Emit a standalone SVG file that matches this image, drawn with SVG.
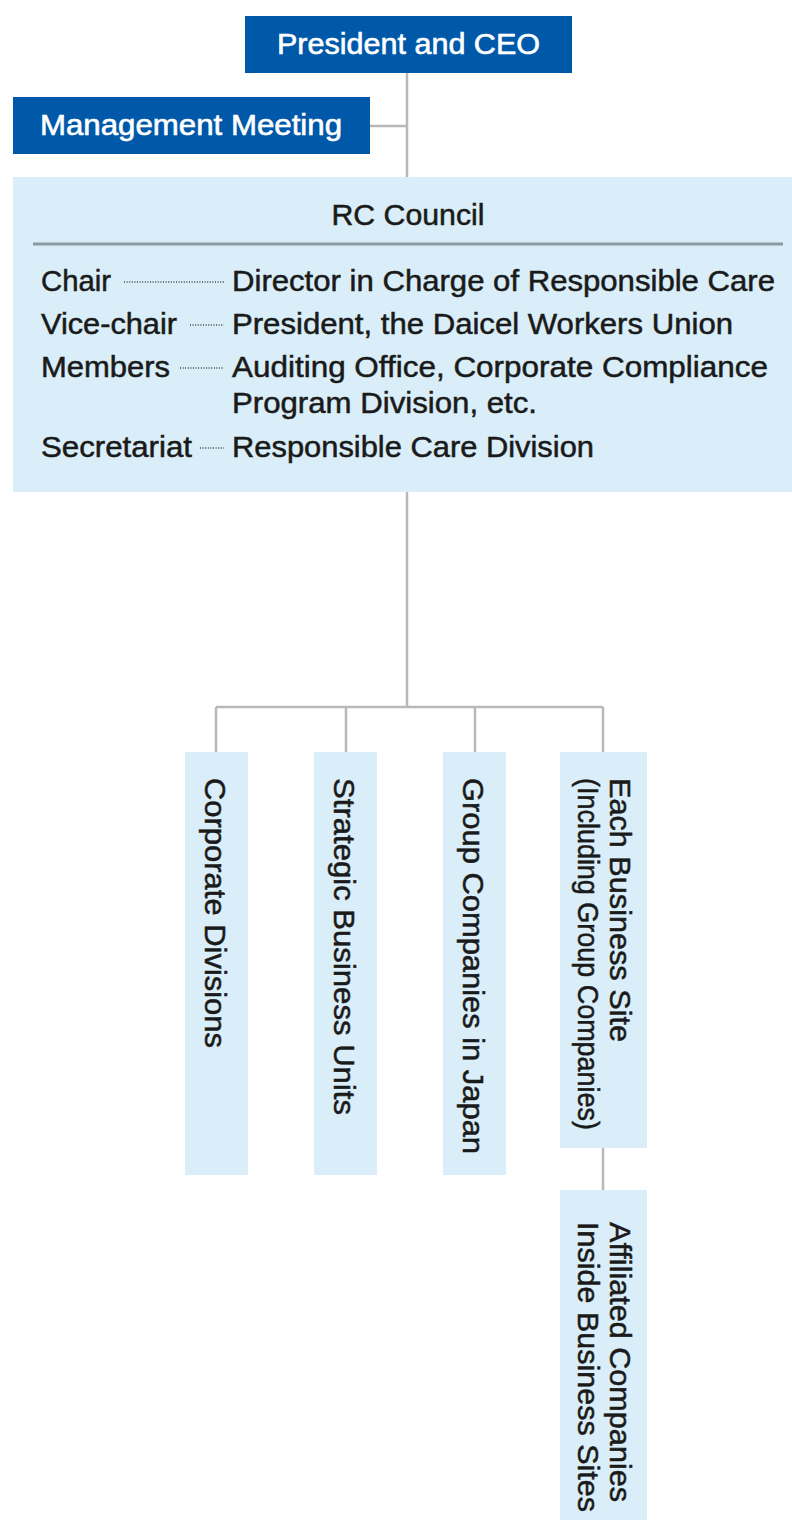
<svg xmlns="http://www.w3.org/2000/svg" width="792" height="1521" viewBox="0 0 792 1521">
  <style>
    .blue { fill: #0058A9; }
    .light { fill: #D9EEF8; }
    .wt { font-family: "Liberation Sans", Arial, sans-serif; font-size: 29px; fill: #ffffff; stroke: #ffffff; stroke-width: 0.6; }
    .tx { font-family: "Liberation Sans", Arial, sans-serif; font-size: 29px; fill: #1a1a1a; stroke: #1a1a1a; stroke-width: 0.5; }
    .conn { stroke: #b8b8b8; stroke-width: 2.5; fill: none; }
    .lead { stroke: #444444; stroke-width: 1.5; stroke-dasharray: 1 1.6; fill: none; }
  </style>
  <rect width="792" height="1521" fill="#ffffff"/>

  <g id="connectors">
    <path class="conn" d="M407 73 V177 M370 126 H407"/>
    <path class="conn" d="M407 492 V707 M216 707 H603 M216 707 V752 M346 707 V752 M475 707 V752 M603 707 V752"/>
    <path class="conn" d="M603 1148 V1190"/>
  </g>

  <g id="president">
    <rect class="blue" x="245" y="16" width="327" height="57"/>
    <text class="wt" x="408.5" y="54" text-anchor="middle" textLength="263" lengthAdjust="spacingAndGlyphs">President and CEO</text>
  </g>

  <g id="management">
    <rect class="blue" x="13" y="97" width="357" height="57"/>
    <text class="wt" x="191" y="135" text-anchor="middle" textLength="302" lengthAdjust="spacingAndGlyphs">Management Meeting</text>
  </g>

  <g id="rc-council">
    <rect class="light" x="13" y="177" width="779" height="315"/>
    <text class="tx" x="408" y="225" text-anchor="middle" textLength="153" lengthAdjust="spacingAndGlyphs">RC Council</text>
    <line x1="33" y1="244" x2="783" y2="244" stroke="#8c9ba3" stroke-width="3"/>
    <text class="tx" x="41" y="291" textLength="70" lengthAdjust="spacingAndGlyphs">Chair</text>
    <line class="lead" x1="124" y1="282" x2="224" y2="282"/>
    <text class="tx" x="232" y="291" textLength="543" lengthAdjust="spacingAndGlyphs">Director in Charge of Responsible Care</text>
    <text class="tx" x="41" y="334" textLength="136" lengthAdjust="spacingAndGlyphs">Vice-chair</text>
    <line class="lead" x1="190" y1="325" x2="224" y2="325"/>
    <text class="tx" x="232" y="334" textLength="501" lengthAdjust="spacingAndGlyphs">President, the Daicel Workers Union</text>
    <text class="tx" x="41" y="377" textLength="129" lengthAdjust="spacingAndGlyphs">Members</text>
    <line class="lead" x1="180" y1="368" x2="224" y2="368"/>
    <text class="tx" x="232" y="377" textLength="536" lengthAdjust="spacingAndGlyphs">Auditing Office, Corporate Compliance</text>
    <text class="tx" x="232" y="413" textLength="305" lengthAdjust="spacingAndGlyphs">Program Division, etc.</text>
    <text class="tx" x="41" y="457" textLength="151" lengthAdjust="spacingAndGlyphs">Secretariat</text>
    <line class="lead" x1="200" y1="448" x2="224" y2="448"/>
    <text class="tx" x="232" y="457" textLength="362" lengthAdjust="spacingAndGlyphs">Responsible Care Division</text>
  </g>

  <g id="corporate-divisions">
    <rect class="light" x="185" y="752" width="63" height="423"/>
    <text class="tx" transform="translate(205 778) rotate(90)" textLength="270" lengthAdjust="spacingAndGlyphs">Corporate Divisions</text>
  </g>

  <g id="strategic-business-units">
    <rect class="light" x="314" y="752" width="63" height="423"/>
    <text class="tx" transform="translate(334 778) rotate(90)" textLength="337" lengthAdjust="spacingAndGlyphs">Strategic Business Units</text>
  </g>

  <g id="group-companies-japan">
    <rect class="light" x="443" y="752" width="63" height="423"/>
    <text class="tx" transform="translate(463 778) rotate(90)" textLength="376" lengthAdjust="spacingAndGlyphs">Group Companies in Japan</text>
  </g>

  <g id="each-business-site">
    <rect class="light" x="560" y="752" width="87" height="396"/>
    <text class="tx" transform="translate(610 778) rotate(90)" textLength="264" lengthAdjust="spacingAndGlyphs">Each Business Site</text>
    <text class="tx" transform="translate(578 778) rotate(90)" textLength="352" lengthAdjust="spacingAndGlyphs">(Including Group Companies)</text>
  </g>

  <g id="affiliated-companies">
    <rect class="light" x="560" y="1190" width="87" height="330"/>
    <text class="tx" transform="translate(610 1222) rotate(90)" textLength="280" lengthAdjust="spacingAndGlyphs">Affiliated Companies</text>
    <text class="tx" transform="translate(578 1222) rotate(90)" textLength="290" lengthAdjust="spacingAndGlyphs">Inside Business Sites</text>
  </g>
</svg>
